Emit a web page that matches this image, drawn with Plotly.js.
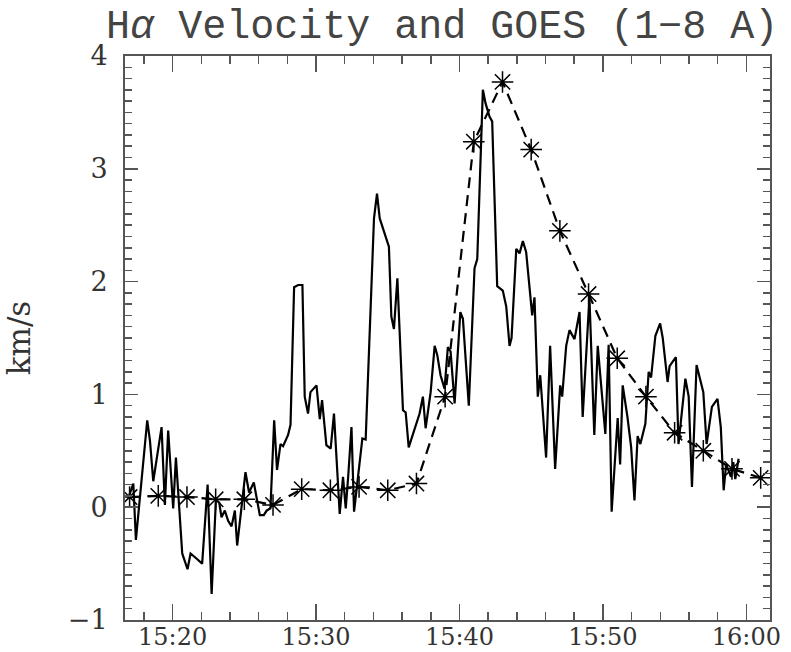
<!DOCTYPE html>
<html>
<head>
<meta charset="utf-8">
<script src="https://cdn.plot.ly/plotly-3.0.1.min.js"></script>
<style>html,body{margin:0;padding:0;background:#fff;}#chart{width:791px;height:652px;}</style>
</head>
<body>
<div id="chart"></div>
<script>
// Time in minutes after 15:00
const velTime = [16.91,17.26,17.44,18.23,18.42,18.65,19.23,19.46,19.69,20.04,20.23,20.67,21.04,21.25,21.62,22.06,22.44,22.72,23.02,23.25,23.41,23.64,23.87,24.11,24.34,24.50,25.08,25.33,25.66,26.08,26.36,26.55,26.82,27.08,27.28,27.52,27.70,28.05,28.22,28.47,28.75,29.05,29.21,29.44,29.61,30.03,30.26,30.42,30.72,31.02,31.25,31.53,31.65,31.88,32.07,32.24,32.47,32.65,32.92,33.23,33.46,34.04,34.25,34.44,35.08,35.25,35.43,35.67,36.06,36.25,36.46,37.22,37.45,37.64,37.99,38.27,38.45,38.68,38.96,39.19,39.38,39.66,40.06,40.24,40.65,41.05,41.24,41.63,41.82,42.10,42.28,42.63,43.02,43.26,43.49,43.63,43.96,44.19,44.42,44.65,45.07,45.23,45.46,45.63,46.04,46.32,46.67,47.02,47.16,47.44,47.67,48.02,48.37,48.59,49.06,49.40,49.64,50.17,50.40,50.61,51.03,51.20,51.38,51.71,51.97,52.20,52.42,52.61,52.96,53.19,53.36,53.66,53.99,54.17,54.51,54.65,55.09,55.27,55.75,55.98,56.21,56.53,57.00,57.23,57.60,57.99,58.22,58.42,58.59,58.93,59.09,59.23,59.46];
const velValue = [0.08,0.21,-0.29,0.77,0.59,0.23,0.71,0.02,0.68,-0.01,0.44,-0.41,-0.55,-0.41,-0.45,-0.50,0.20,-0.77,0.07,0.04,-0.09,-0.03,-0.12,-0.17,-0.03,-0.34,0.31,0.13,0.22,-0.07,-0.07,-0.03,-0.01,0.77,0.33,0.56,0.54,0.64,0.73,1.95,1.97,1.97,0.98,0.83,1.02,1.08,0.78,0.95,0.55,0.52,0.83,0.18,-0.06,0.27,-0.01,0.27,0.71,-0.04,0.27,0.61,0.60,2.56,2.78,2.56,2.31,1.69,1.58,2.03,0.86,0.84,0.53,0.83,0.98,0.70,1.02,1.43,1.35,1.17,1.05,1.42,1.38,0.92,1.73,1.67,0.90,2.12,2.20,3.70,3.58,3.46,3.42,1.96,1.92,1.78,1.43,1.50,2.29,2.25,2.36,2.26,1.70,1.86,0.98,1.17,0.44,1.43,0.34,1.08,0.98,1.43,1.57,1.49,1.73,0.80,1.86,0.64,1.43,0.65,1.44,-0.04,0.79,0.38,1.08,0.80,0.53,0.06,0.63,0.56,0.74,1.20,1.15,1.52,1.63,1.50,1.11,1.25,1.33,0.56,1.14,0.98,0.18,1.26,1.02,0.56,0.89,0.96,0.71,0.15,0.38,0.27,0.40,0.25,0.43];

const goesTime = [17,19,21,23,25,27,29,31,33,35,37,39,41,43,45,47,49,51,53,55,57,59,61];
const goesValue = [0.09,0.10,0.09,0.07,0.07,0.02,0.16,0.15,0.18,0.15,0.21,0.98,3.24,3.77,3.17,2.45,1.89,1.32,0.98,0.66,0.50,0.34,0.26];

const xTickVals = [20,30,40,50,60];
const xTickText = ['15:20','15:30','15:40','15:50','16:00'];
const yTickVals = [-1,0,1,2,3,4];

const serif = '"DejaVu Serif", "Liberation Serif", serif';
const titleFont = '"Liberation Mono", "DejaVu Serif", monospace';
const axisGray = '#555';

const traces = [
  {x: velTime, y: velValue, mode: 'lines', type: 'scatter',
   line: {color: '#000', width: 2.2}, hoverinfo: 'skip'},
  {x: goesTime, y: goesValue, mode: 'lines+markers', type: 'scatter',
   line: {color: '#000', width: 2.2, dash: '11px,7px'},
   marker: {symbol: 'asterisk-open', size: 18, color: '#000', line: {color: '#000', width: 1.5}},
   hoverinfo: 'skip'}
];

const layout = {
  width: 791, height: 652,
  margin: {l: 125, r: 21, t: 56, b: 32},
  paper_bgcolor: '#fff', plot_bgcolor: '#fff',
  showlegend: false,
  title: {text: 'H<i>α</i> Velocity and GOES (1−8 A)', font: {family: titleFont, size: 40, color: '#444'},
          x: 0.559, xanchor: 'center', xref: 'container', y: 0.963, yanchor: 'middle', yref: 'container'},
  xaxis: {range: [16.68, 61.65], showgrid: false, zeroline: false,
          showline: true, linecolor: axisGray, linewidth: 2, mirror: 'allticks',
          ticks: 'inside', ticklen: 16, tickwidth: 1.5, tickcolor: axisGray,
          tickvals: xTickVals, ticktext: xTickText, ticklabelstandoff: -6,
          tickfont: {family: serif, size: 24, color: '#333'},
          minor: {dtick: 2, tick0: 0, ticks: 'inside', ticklen: 8, tickwidth: 1.5, tickcolor: axisGray, showgrid: false}},
  yaxis: {range: [-1, 4], showgrid: false, zeroline: false,
          showline: true, linecolor: axisGray, linewidth: 2, mirror: 'allticks',
          ticks: 'inside', ticklen: 13, tickwidth: 1.5, tickcolor: axisGray,
          tickvals: yTickVals, ticklabelstandoff: 10,
          tickfont: {family: serif, size: 27, color: '#333'},
          minor: {dtick: 0.1, tick0: 0, ticks: 'inside', ticklen: 7, tickwidth: 1.5, tickcolor: axisGray, showgrid: false},
          title: {text: 'km/s', font: {family: serif, size: 31, color: '#333'}, standoff: 28}}
};

Plotly.newPlot('chart', traces, layout, {staticPlot: true, displayModeBar: false});
</script>
</body>
</html>
